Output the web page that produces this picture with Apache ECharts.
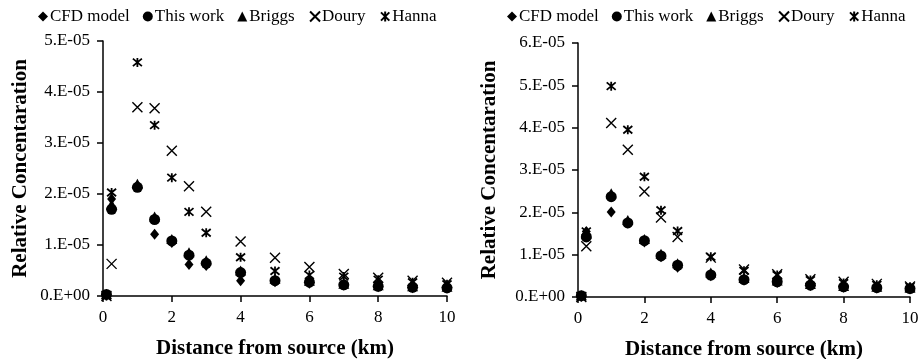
<!DOCTYPE html>
<html>
<head>
<meta charset="utf-8">
<script src="https://cdn.jsdelivr.net/npm/echarts@6/dist/echarts.min.js"></script>
<style>
  html, body { margin: 0; padding: 0; background: #fff; }
  #chart { width: 921px; height: 359px; }
</style>
</head>
<body>
<div id="chart"></div>
<script>
// Downwind distances (km) shared by both panels
const distances = [0.1, 0.25, 1, 1.5, 2, 2.5, 3, 4, 5, 6, 7, 8, 9, 10];

// Left panel: relative concentration
const leftCfd      = [0.02e-5, 1.90e-5, 2.15e-5, 1.21e-5, 1.05e-5, 0.62e-5, 0.60e-5, 0.30e-5, 0.28e-5, 0.25e-5, 0.21e-5, 0.18e-5, 0.16e-5, 0.15e-5];
const leftThisWork = [0.03e-5, 1.70e-5, 2.13e-5, 1.50e-5, 1.08e-5, 0.80e-5, 0.64e-5, 0.46e-5, 0.30e-5, 0.27e-5, 0.22e-5, 0.19e-5, 0.17e-5, 0.16e-5];
const leftBriggs   = [0.04e-5, 1.80e-5, 2.20e-5, 1.56e-5, 1.12e-5, 0.86e-5, 0.70e-5, 0.50e-5, 0.34e-5, 0.30e-5, 0.24e-5, 0.21e-5, 0.19e-5, 0.18e-5];
const leftDoury    = [0.00e-5, 0.63e-5, 3.70e-5, 3.68e-5, 2.85e-5, 2.15e-5, 1.65e-5, 1.07e-5, 0.75e-5, 0.57e-5, 0.43e-5, 0.36e-5, 0.30e-5, 0.26e-5];
const leftHanna    = [0.00e-5, 2.03e-5, 4.58e-5, 3.35e-5, 2.32e-5, 1.65e-5, 1.24e-5, 0.76e-5, 0.49e-5, 0.41e-5, 0.38e-5, 0.32e-5, 0.27e-5, 0.23e-5];

// Right panel: relative concentration
const rightCfd      = [0.02e-5, 1.55e-5, 2.01e-5, 1.75e-5, 1.30e-5, 0.95e-5, 0.70e-5, 0.50e-5, 0.40e-5, 0.34e-5, 0.27e-5, 0.23e-5, 0.21e-5, 0.19e-5];
const rightThisWork = [0.03e-5, 1.42e-5, 2.37e-5, 1.75e-5, 1.33e-5, 0.97e-5, 0.75e-5, 0.52e-5, 0.41e-5, 0.36e-5, 0.28e-5, 0.24e-5, 0.22e-5, 0.20e-5];
const rightBriggs   = [0.04e-5, 1.50e-5, 2.45e-5, 1.82e-5, 1.37e-5, 1.02e-5, 0.80e-5, 0.58e-5, 0.45e-5, 0.39e-5, 0.31e-5, 0.26e-5, 0.24e-5, 0.22e-5];
const rightDoury    = [0.00e-5, 1.20e-5, 4.11e-5, 3.48e-5, 2.49e-5, 1.88e-5, 1.42e-5, 0.93e-5, 0.65e-5, 0.54e-5, 0.42e-5, 0.36e-5, 0.31e-5, 0.25e-5];
const rightHanna    = [0.00e-5, 1.55e-5, 4.98e-5, 3.95e-5, 2.84e-5, 2.05e-5, 1.56e-5, 0.95e-5, 0.62e-5, 0.52e-5, 0.40e-5, 0.33e-5, 0.29e-5, 0.24e-5];

const seriesNames = ['CFD model', 'This work', 'Briggs', 'Doury', 'Hanna'];
const leftYMax = 5e-5;
const rightYMax = 6e-5;
const yStep = 1e-5;

const FONT = '"Liberation Serif", "Times New Roman", serif';

const CROSS = 'path://M0,0L10,10M10,0L0,10';
const STAR  = 'path://M0,0L10,10M10,0L0,10M5,-1L5,11';

const markerStyles = [
  { symbol: 'diamond',  symbolSize: [9, 11],  itemStyle: { color: '#000', opacity: 1 } },
  { symbol: 'circle',   symbolSize: 11,       itemStyle: { color: '#000', opacity: 1 } },
  { symbol: 'triangle', symbolSize: [11, 10], itemStyle: { color: '#000', opacity: 1 } },
  { symbol: CROSS,      symbolSize: 10,       itemStyle: { color: 'none', borderColor: '#000', borderWidth: 1.4, opacity: 1 } },
  { symbol: STAR,       symbolSize: 9,        itemStyle: { color: 'none', borderColor: '#000', borderWidth: 1.8, opacity: 1 } }
];

function pairs(ys) { return distances.map((x, i) => [x, ys[i]]); }

function yLabel(v) {
  const n = Math.round(v / 1e-5);
  return n === 0 ? '0.E+00' : n + '.E-05';
}

function makeSeries(values, axisIdx) {
  return values.map((ys, k) => Object.assign({
    type: 'scatter',
    name: seriesNames[k],
    xAxisIndex: axisIdx,
    yAxisIndex: axisIdx,
    data: pairs(ys),
    emphasis: { disabled: true },
    silent: true
  }, markerStyles[k]));
}

const axisLineStyle = { show: true, lineStyle: { color: '#000', width: 1.5 } };
const tickStyle = { show: true, inside: false, length: 6, lineStyle: { color: '#000', width: 1.5 } };
const labelStyle = { color: '#000', fontFamily: FONT, fontSize: 17 };
const titleStyle = { color: '#000', fontFamily: FONT, fontSize: 21, fontWeight: 'bold' };

function xAxis(gridIndex) {
  return {
    type: 'value', gridIndex, min: 0, max: 10, interval: 2,
    axisLine: axisLineStyle, axisTick: tickStyle, splitLine: { show: false },
    axisLabel: Object.assign({ margin: 13 }, labelStyle),
    name: 'Distance from source (km)', nameLocation: 'middle', nameGap: 42,
    nameTextStyle: titleStyle
  };
}

function yAxis(gridIndex, max, gap) {
  return {
    type: 'value', gridIndex, min: 0, max, interval: yStep,
    axisLine: axisLineStyle, axisTick: tickStyle, splitLine: { show: false },
    axisLabel: Object.assign({ margin: 13, formatter: yLabel }, labelStyle),
    name: 'Relative Concentaration', nameLocation: 'middle', nameGap: gap,
    nameTextStyle: titleStyle
  };
}

function legend(left) {
  return {
    left, top: 3, itemGap: 13, itemWidth: 10, itemHeight: 10,
    textStyle: { color: '#000', fontFamily: FONT, fontSize: 17, padding: [0, 0, 0, -3] },
    data: seriesNames
  };
}

const chart = echarts.init(document.getElementById('chart'), null, { renderer: 'canvas' });
chart.setOption({
  backgroundColor: '#fff',
  animation: false,
  legend: [legend(33), legend(502)],
  grid: [
    { left: 103, top: 41, width: 344, height: 255, containLabel: false, outerBoundsMode: 'none' },
    { left: 578, top: 43, width: 332, height: 254, containLabel: false, outerBoundsMode: 'none' }
  ],
  xAxis: [xAxis(0), xAxis(1)],
  yAxis: [yAxis(0, leftYMax, 72), yAxis(1, rightYMax, 78)],
  series: [
    ...makeSeries([leftCfd, leftThisWork, leftBriggs, leftDoury, leftHanna], 0),
    ...makeSeries([rightCfd, rightThisWork, rightBriggs, rightDoury, rightHanna], 1)
  ]
});
</script>
</body>
</html>
